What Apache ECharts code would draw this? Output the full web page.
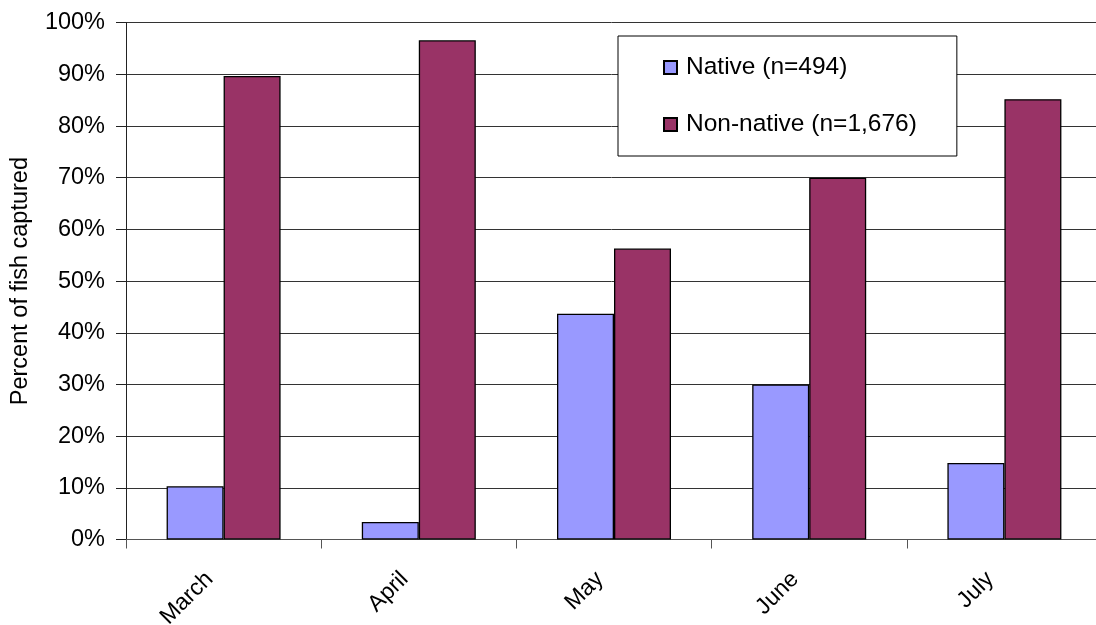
<!DOCTYPE html>
<html>
<head>
<meta charset="utf-8">
<script src="https://cdn.jsdelivr.net/npm/echarts@6/dist/echarts.min.js"></script>
<style>
html,body{margin:0;padding:0;background:#fff;}
#chart{width:1096px;height:625px;}
</style>
</head>
<body>
<div id="chart"></div>
<script>
const months = ['March', 'April', 'May', 'June', 'July'];
const nativeValues = [10.3, 3.4, 43.7, 30.0, 14.8];
const nonNativeValues = [89.7, 96.6, 56.3, 70.0, 85.2];
const seriesNames = ['Native (n=494)', 'Non-native (n=1,676)'];
const yTicks = [0, 10, 20, 30, 40, 50, 60, 70, 80, 90, 100];

const FONT = '"Liberation Sans", Arial, sans-serif';
const chart = echarts.init(document.getElementById('chart'), null, {renderer: 'canvas'});
chart.setOption({
  animation: false,
  backgroundColor: '#ffffff',
  textStyle: {fontFamily: FONT, color: '#000'},
  grid: {left: 126, top: 22.7, width: 976, bottom: 85.5, containLabel: false, outerBoundsMode: 'none'},
  legend: {
    orient: 'vertical',
    left: 618, top: 36,
    padding: [19, 40, 19, 45],
    itemGap: 32,
    itemWidth: 13, itemHeight: 13,
    borderColor: '#000', borderWidth: 1,
    backgroundColor: '#fff',
    textStyle: {fontFamily: FONT, fontSize: 24.5, color: '#000', padding: [0, 0, 0, 4]},
    data: seriesNames.map(n => ({name: n, icon: 'rect'}))
  },
  xAxis: {
    type: 'category',
    data: months,
    axisLine: {lineStyle: {color: '#555', width: 1}},
    axisTick: {show: true, alignWithLabel: false, length: 9, lineStyle: {color: '#555'}},
    axisLabel: {rotate: 45, margin: 22, fontSize: 23, fontFamily: FONT, color: '#000', interval: 0, padding: [0, 20, 0, 0]},
    splitLine: {show: false}
  },
  yAxis: {
    type: 'value',
    min: yTicks[0], max: yTicks[yTicks.length - 1], interval: 10,
    name: 'Percent of fish captured',
    nameLocation: 'middle',
    nameGap: 93,
    nameTextStyle: {fontSize: 23.5, fontFamily: FONT, color: '#000'},
    axisLine: {show: true, lineStyle: {color: '#222', width: 1}},
    axisTick: {show: true, length: 10, lineStyle: {color: '#222'}},
    axisLabel: {formatter: '{value}%', margin: 21, fontSize: 23.5, fontFamily: FONT, color: '#000'},
    splitLine: {show: true, lineStyle: {color: '#333', width: 1}}
  },
  series: [
    {
      name: seriesNames[0], type: 'bar', data: nativeValues,
      barWidth: 57, barGap: '0%',
      itemStyle: {color: '#9999FF', borderColor: '#000', borderWidth: 1.3}
    },
    {
      name: seriesNames[1], type: 'bar', data: nonNativeValues,
      barWidth: 57, barGap: '0%',
      itemStyle: {color: '#993366', borderColor: '#000', borderWidth: 1.3}
    }
  ]
});
</script>
</body>
</html>
